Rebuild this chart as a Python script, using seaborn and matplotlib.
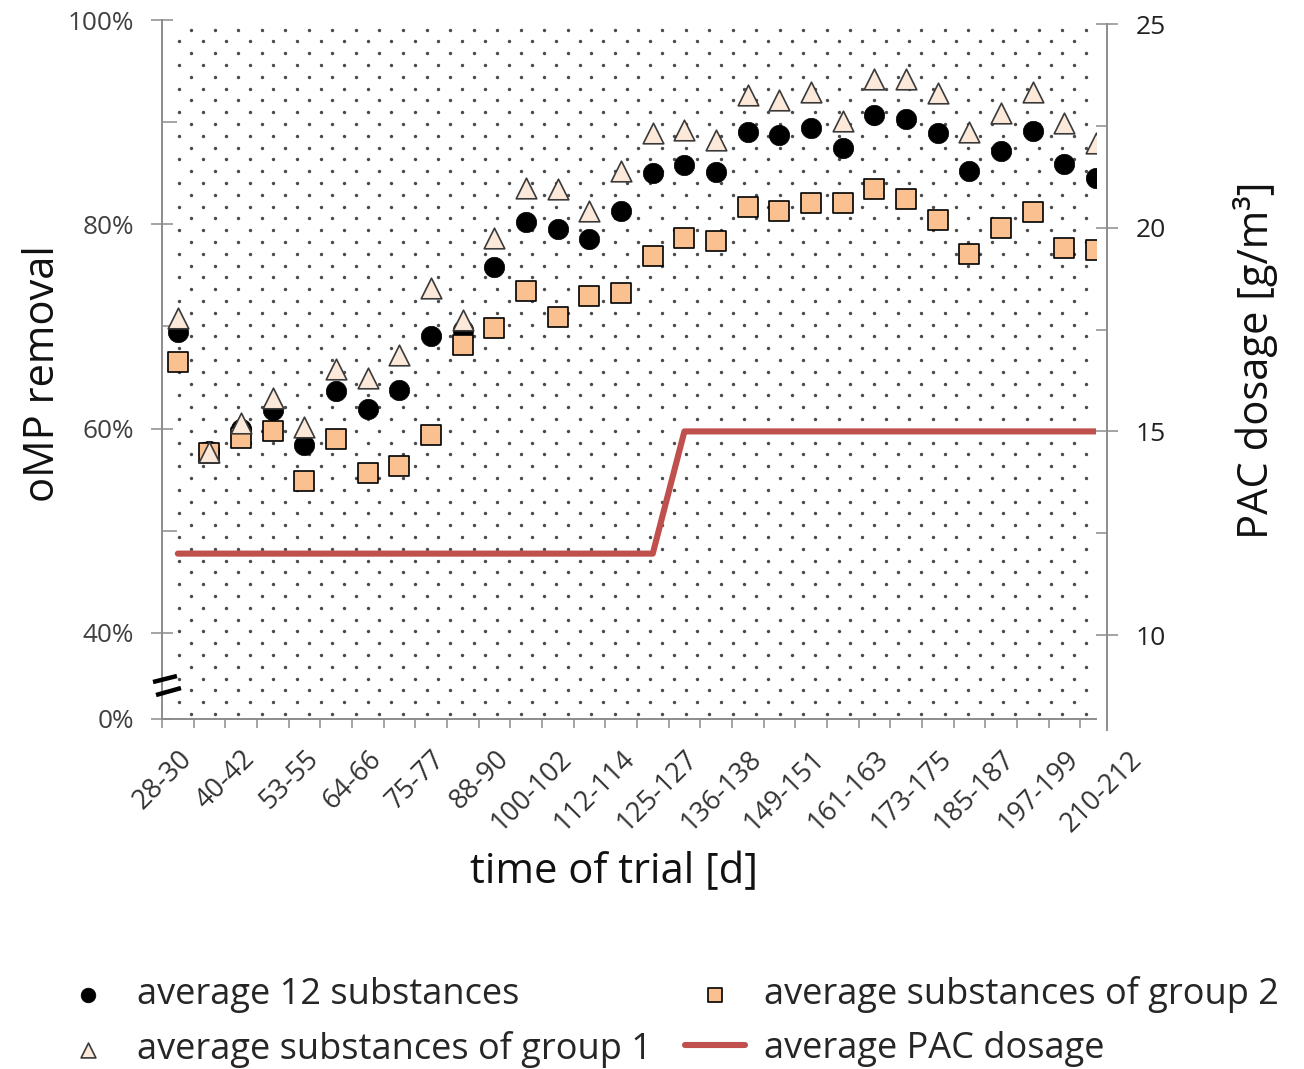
import numpy as np
import pandas as pd
import matplotlib
matplotlib.use("Agg")
import matplotlib.pyplot as plt
import seaborn as sns
from matplotlib.ticker import FixedLocator, FixedFormatter, NullLocator

# ---------------- data ----------------
tick_labels = ["28-30", "40-42", "53-55", "64-66", "75-77", "88-90", "100-102",
               "112-114", "125-127", "136-138", "149-151", "161-163", "173-175",
               "185-187", "197-199", "210-212"]

avg_12 = [69.5, 57.8, 60.0, 61.8, 58.4, 63.7, 61.9, 63.8, 69.1, 69.7,
          75.8, 80.2, 79.5, 78.6, 81.3, 85.0, 85.8, 85.1, 89.0, 88.7,
          89.4, 87.5, 90.7, 90.3, 88.9, 85.2, 87.2, 89.1, 85.9, 84.5]
avg_g1 = [70.8, 57.7, 60.6, 63.0, 60.2, 65.8, 65.0, 67.2, 73.8, 70.6,
          78.7, 83.6, 83.5, 81.3, 85.2, 88.9, 89.2, 88.3, 92.7, 92.2,
          93.0, 90.1, 94.2, 94.2, 92.9, 89.0, 90.9, 93.0, 89.9, 88.0]
avg_g2 = [66.5, 57.6, 59.1, 59.8, 54.9, 59.0, 55.7, 56.3, 59.4, 68.2,
          69.9, 73.5, 70.9, 73.0, 73.3, 76.9, 78.7, 78.4, 81.7, 81.3,
          82.1, 82.1, 83.5, 82.5, 80.4, 77.1, 79.6, 81.2, 77.7, 77.5]
pac_dosage = [12, 12, 12, 12, 12, 12, 12, 12, 12, 12, 12, 12, 12, 12, 12, 12,
              15, 15, 15, 15, 15, 15, 15, 15, 15, 15, 15, 15, 15, 15]

n = len(avg_12)
df = pd.DataFrame({"idx": np.arange(n), "all": avg_12, "g1": avg_g1,
                   "g2": avg_g2, "pac": pac_dosage})

# ---------------- style ----------------
sns.set_theme(style="white")
plt.rcParams["font.family"] = ["Open Sans", "DejaVu Sans"]

GRAY = "#8c8c8c"
W, H = 1304, 1069
AX_L, AX_R, AX_T, AX_B = 162, 1096, 20, 719
fig = plt.figure(figsize=(W / 100, H / 100), dpi=100)
ax = fig.add_axes([AX_L / W, 1 - AX_B / H, (AX_R - AX_L) / W, (AX_B - AX_T) / H])
ax2 = ax.twinx()

# dotted pattern fill of the plot area (decorative texture, axes coordinates)
pat_x, pat_y = [], []
for i, yp in enumerate(np.arange(714.0, 22.0, -11.8)):
    x0 = 191.0 if i % 2 == 0 else 179.2
    for xp in np.arange(x0, AX_R - 1, 23.55):
        pat_x.append((xp - AX_L) / (AX_R - AX_L))
        pat_y.append((AX_B - yp) / (AX_B - AX_T))
ax.scatter(pat_x, pat_y, transform=ax.transAxes, s=6.0, color="#4a4a4a",
           linewidths=0, zorder=0.5)

sns.scatterplot(data=df, x="idx", y="all", ax=ax, marker="o", s=215,
                color="black", edgecolor="black", linewidth=0.5,
                label="average 12 substances", zorder=3)
sns.scatterplot(data=df, x="idx", y="g2", ax=ax, marker="s", s=220,
                color="#FAC090", edgecolor="black", linewidth=1.2,
                label="average substances of group 2", zorder=4)
sns.scatterplot(data=df, x="idx", y="g1", ax=ax, marker="^", s=220,
                color="#FDE9D9", edgecolor="#3a3a3a", linewidth=1.2,
                label="average substances of group 1", zorder=5)
sns.lineplot(data=df, x="idx", y="pac", ax=ax2, color="#C0504D",
             linewidth=4.4, label="average PAC dosage")

for a in (ax, ax2):
    if a.get_legend() is not None:
        a.get_legend().remove()

# ---------------- axes ----------------
ax.set_xlim(-0.5, n - 1)
y_bottom = 31.58
ax.set_ylim(y_bottom, 100)
ax2.set_ylim(7.94, 25.1)

ax.yaxis.set_major_locator(FixedLocator([y_bottom, 40, 60, 80, 100]))
ax.yaxis.set_major_formatter(FixedFormatter(["0%", "40%", "60%", "80%", "100%"]))
ax.yaxis.set_minor_locator(FixedLocator([50, 70, 90]))
ax.tick_params(axis="y", which="major", direction="inout", length=16.5,
               width=1.1, color=GRAY, pad=12.0, labelsize=18.8,
               labelcolor="#404040", left=True)
ax.tick_params(axis="y", which="minor", direction="in", length=10.8,
               width=1.1, color=GRAY, left=True)

ax.xaxis.set_major_locator(NullLocator())
ax.xaxis.set_minor_locator(FixedLocator(np.arange(-0.5, n - 1, 1.0)))
ax.tick_params(axis="x", which="minor", direction="out", length=6.5,
               width=1.1, color=GRAY, bottom=True)

for k, lab in enumerate(tick_labels):
    ax.annotate(lab, xy=(2 * k, 0), xycoords=("data", "axes fraction"),
                xytext=(0, -19.0), textcoords="offset points",
                rotation=45, ha="right", va="top", rotation_mode="anchor",
                fontsize=19.5, color="#333333", annotation_clip=False)

ax2.yaxis.set_major_locator(FixedLocator([10, 15, 20, 25]))
ax2.yaxis.set_minor_locator(FixedLocator([12.5, 17.5, 22.5]))
ax2.tick_params(axis="y", which="major", direction="inout", length=15.8,
                width=1.1, color=GRAY, pad=13.0, labelsize=19,
                labelcolor="#222222", right=True)
ax2.tick_params(axis="y", which="minor", direction="in", length=7.9,
                width=1.1, color=GRAY, right=True)

for s in ["top", "right"]:
    ax.spines[s].set_visible(False)
for s in ["left", "bottom"]:
    ax.spines[s].set_color(GRAY)
    ax.spines[s].set_linewidth(1.4)
for s in ["top", "left", "bottom"]:
    ax2.spines[s].set_visible(False)
ax2.spines["right"].set_color(GRAY)
ax2.spines["right"].set_linewidth(1.4)
ax2.spines["right"].set_position(("outward", 7.9))
ax2.spines["right"].set_bounds(7.67, 25)

# axis break marks
for (x0, y0, x1, y1) in [(-0.0096, 0.0529, 0.016, 0.0615),
                         (-0.0064, 0.0343, 0.0203, 0.0443)]:
    ax.plot([x0, x1], [y0, y1], transform=ax.transAxes, color="black",
            lw=3.2, clip_on=False, solid_capstyle="butt", zorder=10)

# labels
ax.set_xlabel("time of trial [d]", fontsize=30, color="#111111")
ax.xaxis.set_label_coords(0.484, -0.189)
ax.set_ylabel("oMP removal", fontsize=30, color="#111111")
ax.yaxis.set_label_coords(-0.105, 0.4936)
ax2.set_ylabel("PAC dosage [g/m³]", fontsize=30, color="#111111")
ax2.yaxis.set_label_coords(1.1467, 0.5136)

# legend
h1, l1 = ax.get_legend_handles_labels()
h2, l2 = ax2.get_legend_handles_labels()
hd = dict(zip(l1 + l2, h1 + h2))
order = ["average 12 substances", "average substances of group 1",
         "average substances of group 2", "average PAC dosage"]
fig.legend([hd[o] for o in order], order, ncol=2, loc="upper left",
           bbox_to_anchor=(58 / W, 1 - 976 / H), frameon=False,
           fontsize=26, handlelength=1.67, handletextpad=0.52,
           columnspacing=0.9, labelspacing=0.5, borderaxespad=0,
           borderpad=0, markerscale=0.72)

fig.savefig("out.png", dpi=100)
